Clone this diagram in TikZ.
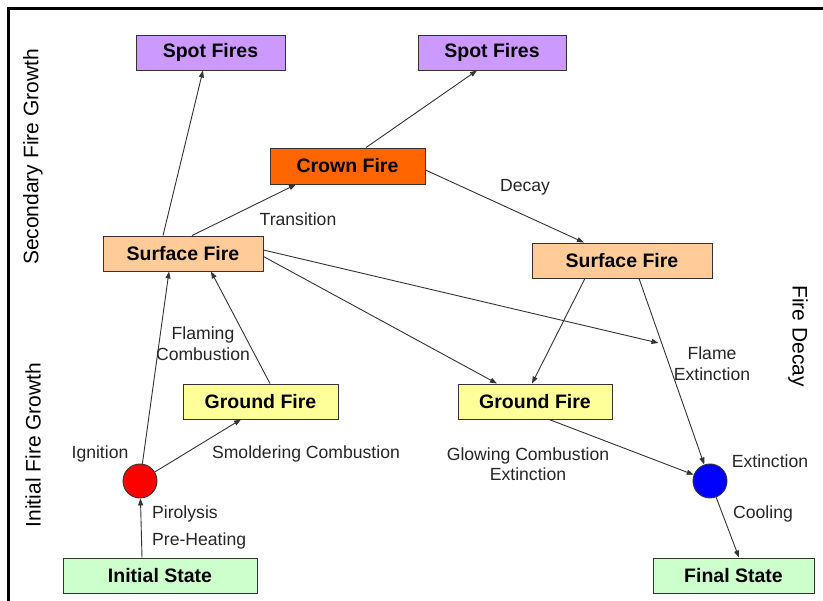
\documentclass[tikz,border=0pt]{standalone}
\usepackage{fontspec}
\setmainfont{Liberation Sans}
\usetikzlibrary{arrows.meta,calc}
\definecolor{spotc}{HTML}{CC99FF}
\definecolor{crownc}{HTML}{FF6600}
\definecolor{surfc}{HTML}{FFCC99}
\definecolor{groundc}{HTML}{FFFF99}
\definecolor{statec}{HTML}{CCFFCC}
\definecolor{linec}{HTML}{333333}
\tikzset{
  box/.style={draw=linec, line width=0.9pt, minimum height=35pt, inner sep=0pt,
    font=\fontsize{19.5}{22}\selectfont\bfseries, text=black},
  dot/.style={circle, draw=linec, line width=0.9pt, minimum size=34pt, inner sep=0pt},
  conn/.style={draw=linec, line width=0.9pt, -{Triangle[length=7pt,width=5pt]}},
  lbl/.style={font=\fontsize{17.6}{20.5}\selectfont, text=black!85, inner sep=0pt},
  side/.style={font=\fontsize{21}{24}\selectfont, text=black, inner sep=0pt},
  frame/.style={draw=black, line width=2.5pt}
}
\begin{document}
\begin{tikzpicture}[x=1pt,y=-1pt]
\useasboundingbox (0,0) rectangle (823,601);
\fill[white] (0,0) rectangle (823,601);
\draw[frame] (823,8.5) -- (8.5,8.5) -- (8.5,601);

% nodes
\node[box, fill=spotc, minimum width=149pt] (spl) at (210.5,52.5) {Spot Fires};
\node[box, fill=spotc, minimum width=148pt] (spr) at (492,52.5) {Spot Fires};
\node[box, fill=crownc, minimum width=155pt, minimum height=36pt] (cr) at (347.5,166) {Crown Fire};
\node[box, fill=surfc, minimum width=160pt] (sl) at (183,253.5) {Surface Fire};
\node[box, fill=surfc, minimum width=180pt] (sr) at (622,260.5) {Surface Fire};
\node[box, fill=groundc, minimum width=155pt] (gl) at (260.5,401.5) {Ground Fire};
\node[box, fill=groundc, minimum width=154pt] (gr) at (535,401.5) {Ground Fire};
\node[box, fill=statec, minimum width=194pt] (is) at (160,575.5) {Initial State};
\node[box, fill=statec, minimum width=161pt] (fs) at (733.5,575.5) {Final State};
\node[dot, fill=red] (red) at (140,481) {};
\node[dot, fill=blue] (blue) at (710,481) {};
\coordinate (fx) at (658.5,343);

% side labels
\node[side, rotate=90] (sfg) at (33,157) {Secondary Fire Growth};
\node[side, rotate=90] (ifg) at (33,445) {Initial Fire Growth};
\node[side, rotate=-90] (fd) at (798,336) {Fire Decay};

% connectors
\draw[conn] ([xshift=-18pt]is.north) -- (red);
\draw[conn] (red) -- ([xshift=-14pt]sl.south);
\draw[conn] (red) -- ([xshift=-19.5pt]gl.south);
\draw[conn] ([xshift=9.5pt]gl.north) -- ([xshift=28pt]sl.south);
\draw[conn] ([xshift=-20pt]sl.north) -- ([xshift=-7.5pt]spl.south);
\draw[conn] ([xshift=9pt]sl.north) -- ([xshift=-51.5pt]cr.south);
\draw[conn] ([xshift=18.5pt]cr.north) -- ([xshift=-15pt]spr.south);
\draw[conn] ([yshift=-4pt]cr.east) -- ([xshift=-38pt]sr.north);
\draw[conn] ([yshift=3.5pt]sl.east) -- (fx);
\draw[conn] ([yshift=-3pt]sl.east) -- ([xshift=-38pt]gr.north);
\draw[conn] ([xshift=-37pt]sr.south) -- ([xshift=-3pt]gr.north);
\draw[conn] ([xshift=17pt]sr.south) -- (blue);
\draw[conn] ([xshift=14pt]gr.south) -- (blue);
\draw[conn] (blue) -- ([xshift=5.5pt]fs.north);

% edge labels
\node[lbl] (ltr) at (298,219) {Transition};
\node[lbl] (ldc) at (525,187) {Decay};
\node[lbl, align=center] (lfc) at (203,343.5) {Flaming\\Combustion};
\node[lbl] (lig) at (100,454) {Ignition};
\node[lbl] (lsc) at (306,454) {Smoldering Combustion};
\node[lbl, anchor=west] (lpy) at (152,514) {Pirolysis};
\node[lbl, anchor=west] (lph) at (152,541) {Pre-Heating};
\node[lbl, align=center] (lfe) at (712,363.5) {Flame\\Extinction};
\node[lbl, align=center] (lgc) at (528,464) {Glowing Combustion\\Extinction};
\node[lbl] (lex) at (770,461) {Extinction};
\node[lbl] (lco) at (763,514) {Cooling};
\end{tikzpicture}
\end{document}
